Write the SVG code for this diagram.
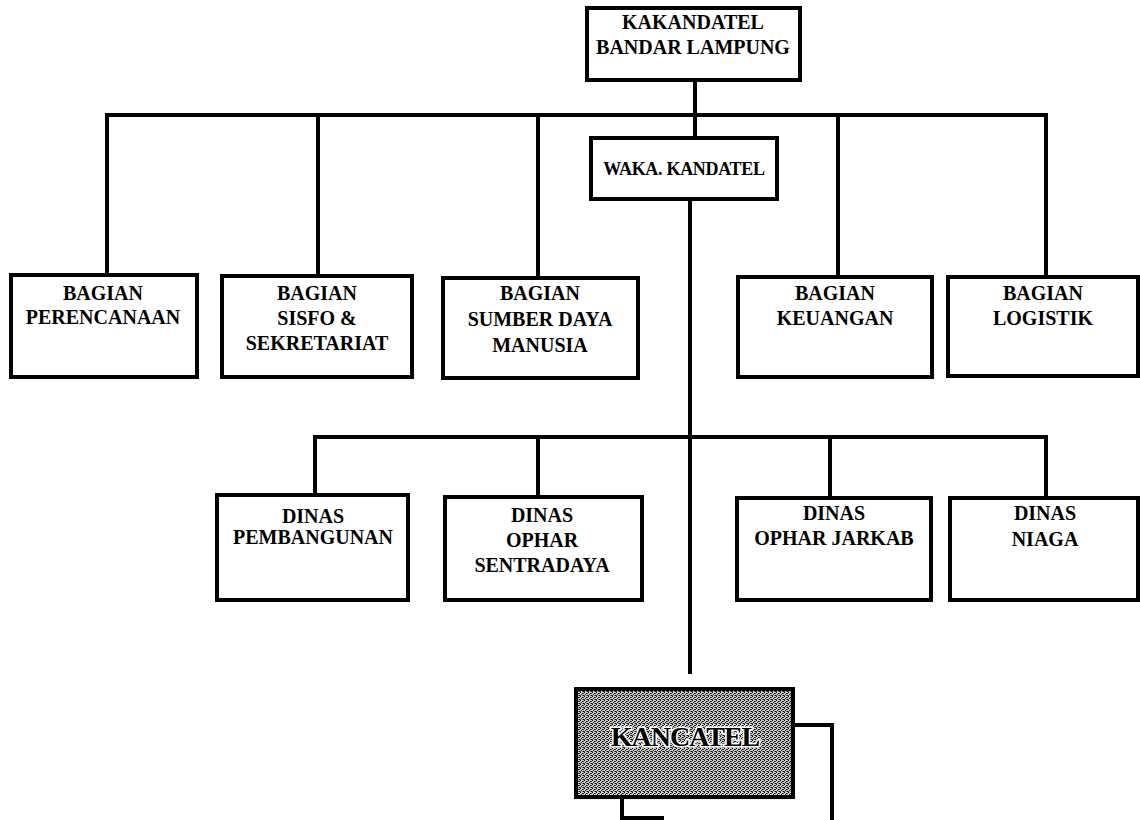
<svg xmlns="http://www.w3.org/2000/svg" width="1140" height="820" viewBox="0 0 1140 820">
<style>
.box{fill:#fff;stroke:#000;stroke-width:4}
.ln{fill:none;stroke:#000;stroke-width:4;stroke-linecap:square}
text{font-family:"Liberation Serif","Times New Roman",serif;font-weight:bold;font-size:20px;fill:#000;text-anchor:middle}
.waka{font-size:18px;letter-spacing:-0.3px}
.big{font-size:28px;stroke:#fff;stroke-width:3;paint-order:stroke;letter-spacing:-1px}
</style>
<defs>
<pattern id="stipple" width="4" height="4" patternUnits="userSpaceOnUse">
<rect width="4" height="4" fill="#cfcfcf"/>
<rect x="0" y="0" width="1" height="1" fill="#000"/>
<rect x="2" y="1" width="1" height="1" fill="#000"/>
<rect x="1" y="2" width="1" height="1" fill="#111"/>
<rect x="3" y="3" width="1" height="1" fill="#000"/>
<rect x="3" y="1" width="1" height="1" fill="#333"/>
<rect x="0" y="3" width="1" height="1" fill="#444"/>
<rect x="2" y="3" width="1" height="1" fill="#666"/>
</pattern>
</defs>
<rect width="1140" height="820" fill="#fff"/>
<g id="connectors">
<path class="ln" d="M695,80 V138"/>
<path class="ln" d="M107,275 V115 H1046 V277"/>
<path class="ln" d="M318,115 V276"/>
<path class="ln" d="M538,115 V278"/>
<path class="ln" d="M838,115 V277"/>
<path class="ln" d="M690,199 V672"/>
<path class="ln" d="M315,495 V437 H1046 V498"/>
<path class="ln" d="M538,437 V497"/>
<path class="ln" d="M830,437 V498"/>
<path class="ln" d="M793,725 H832 V822"/>
<path class="ln" d="M622,797 V818 H662"/>
</g>
<g id="kakandatel">
<rect class="box" x="587" y="8" width="213" height="72"/>
<text x="693" y="29">KAKANDATEL</text>
<text x="693" y="54">BANDAR LAMPUNG</text>
</g>
<g id="waka">
<rect class="box" x="591" y="138" width="186" height="61"/>
<text class="waka" x="684" y="175">WAKA. KANDATEL</text>
</g>
<g id="perencanaan">
<rect class="box" x="11" y="275" width="186" height="102"/>
<text x="103" y="300">BAGIAN</text>
<text x="103" y="324">PERENCANAAN</text>
</g>
<g id="sisfo">
<rect class="box" x="222" y="276" width="190" height="101"/>
<text x="317" y="300">BAGIAN</text>
<text x="317" y="325">SISFO &amp;</text>
<text x="317" y="350">SEKRETARIAT</text>
</g>
<g id="sdm">
<rect class="box" x="443" y="278" width="195" height="100"/>
<text x="540" y="300">BAGIAN</text>
<text x="540" y="326">SUMBER DAYA</text>
<text x="540" y="352">MANUSIA</text>
</g>
<g id="keuangan">
<rect class="box" x="738" y="277" width="194" height="100"/>
<text x="835" y="300">BAGIAN</text>
<text x="835" y="325">KEUANGAN</text>
</g>
<g id="logistik">
<rect class="box" x="948" y="277" width="190" height="99"/>
<text x="1043" y="300">BAGIAN</text>
<text x="1043" y="325">LOGISTIK</text>
</g>
<g id="pembangunan">
<rect class="box" x="217" y="495" width="191" height="105"/>
<text x="313" y="523">DINAS</text>
<text x="313" y="544">PEMBANGUNAN</text>
</g>
<g id="sentradaya">
<rect class="box" x="445" y="497" width="197" height="103"/>
<text x="542" y="522">DINAS</text>
<text x="542" y="547">OPHAR</text>
<text x="542" y="572">SENTRADAYA</text>
</g>
<g id="jarkab">
<rect class="box" x="737" y="498" width="194" height="102"/>
<text x="834" y="520">DINAS</text>
<text x="834" y="545">OPHAR JARKAB</text>
</g>
<g id="niaga">
<rect class="box" x="950" y="498" width="188" height="102"/>
<text x="1045" y="520">DINAS</text>
<text x="1045" y="546">NIAGA</text>
</g>
<g id="kancatel">
<rect x="576" y="689" width="217" height="108" fill="url(#stipple)" stroke="#000" stroke-width="4"/>
<text class="big" x="685" y="746">KANCATEL</text>
</g>
</svg>
